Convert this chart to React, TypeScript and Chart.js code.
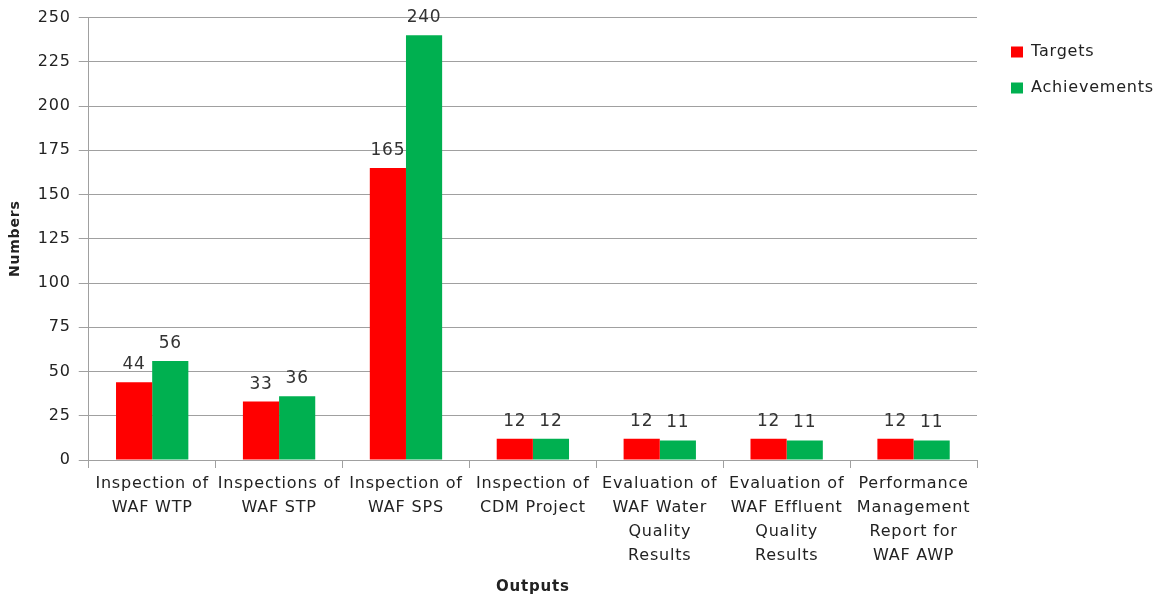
import React, { useEffect, useRef } from "react";
import { Chart, registerables } from "chart.js";

Chart.register(...registerables);

const categories: string[][] = [
  ["Inspection of", "WAF WTP"],
  ["Inspections of", "WAF STP"],
  ["Inspection of", "WAF SPS"],
  ["Inspection of", "CDM Project"],
  ["Evaluation of", "WAF Water", "Quality", "Results"],
  ["Evaluation of", "WAF Effluent", "Quality", "Results"],
  ["Performance", "Management", "Report for", "WAF AWP"],
];
const targets: number[] = [44, 33, 165, 12, 12, 12, 12];
const achievements: number[] = [56, 36, 240, 12, 11, 11, 11];
const yTicks: number[] = [0, 25, 50, 75, 100, 125, 150, 175, 200, 225, 250];

const FONT = "'DejaVu Sans', Verdana, sans-serif";
const TEXT = "#222222";
const GRID = "#a0a0a0";

const spacing = {
  id: "spacing",
  beforeUpdate(chart: any) {
    chart.ctx.letterSpacing = "0.8px";
  },
  beforeDraw(chart: any) {
    chart.ctx.letterSpacing = "0.8px";
  },
};

const legendWidth = {
  id: "legendWidth",
  afterInit(chart: any) {
    const l = chart.legend;
    if (!l) return;
    const orig = l.fit;
    l.fit = function () {
      orig.call(this);
      this.width = 165;
    };
  },
};

const valueLabels = {
  id: "valueLabels",
  afterDatasetsDraw(chart: any) {
    const ctx = chart.ctx;
    ctx.save();
    ctx.font = `17px ${FONT}`;
    ctx.fillStyle = "#333333";
    ctx.textAlign = "center";
    ctx.textBaseline = "bottom";
    chart.data.datasets.forEach((ds: any, i: number) => {
      const meta = chart.getDatasetMeta(i);
      meta.data.forEach((bar: any, j: number) => {
        ctx.fillText(String(ds.data[j]), bar.x, bar.y - 9);
      });
    });
    ctx.restore();
  },
};

export default function App() {
  const ref = useRef<HTMLCanvasElement | null>(null);
  useEffect(() => {
    if (!ref.current) return;
    const chart = new Chart(ref.current, {
      type: "bar",
      data: {
        labels: categories,
        datasets: [
          {
            label: "Targets",
            data: targets,
            backgroundColor: "#FF0000",
            borderWidth: 0,
            categoryPercentage: 0.57,
            barPercentage: 1,
          },
          {
            label: "Achievements",
            data: achievements,
            backgroundColor: "#00B050",
            borderWidth: 0,
            categoryPercentage: 0.57,
            barPercentage: 1,
          },
        ],
      },
      options: {
        animation: false,
        responsive: false,
        maintainAspectRatio: false,
        layout: { padding: { top: 11, right: 0, bottom: 3, left: 5 } },
        plugins: {
          legend: {
            position: "right",
            align: "start",
            title: { display: true, text: "", font: { size: 10, lineHeight: 1 }, padding: { top: 3, bottom: 0 } },
            labels: {
              boxWidth: 12,
              boxHeight: 11,
              padding: 20,
              color: TEXT,
              font: { family: FONT, size: 16 },
            },
          },
          tooltip: { enabled: false },
        },
        scales: {
          x: {
            grid: {
              offset: true,
              drawOnChartArea: false,
              drawTicks: true,
              tickLength: 8,
              color: GRID,
            },
            border: { color: GRID },
            ticks: {
              color: TEXT,
              font: { family: FONT, size: 16, lineHeight: 1.5 },
              maxRotation: 0,
              autoSkip: false,
              padding: 4,
            },
            title: {
              display: true,
              text: "Outputs",
              color: TEXT,
              font: { family: FONT, size: 15, weight: "bold" },
              padding: { top: 6, bottom: 0 },
            },
          },
          y: {
            min: 0,
            max: 250,
            afterBuildTicks(axis: any) {
              axis.ticks = yTicks.map((v) => ({ value: v }));
            },
            grid: { color: GRID, tickLength: 10 },
            border: { color: GRID },
            ticks: {
              color: TEXT,
              font: { family: FONT, size: 16 },
              padding: 8,
            },
            title: {
              display: true,
              text: "Numbers",
              color: TEXT,
              font: { family: FONT, size: 14, weight: "bold" },
              padding: { top: 2, bottom: 6 },
            },
          },
          pad: {
            axis: "y",
            type: "linear",
            position: "right",
            display: true,
            grid: { display: false },
            ticks: { display: false },
            border: { display: false },
            afterFit(scale: any) {
              scale.width = 14;
            },
          },
        },
      },
      plugins: [spacing, legendWidth, valueLabels],
    });
    return () => chart.destroy();
  }, []);
  return (
    <div style={{ position: "fixed", left: 0, top: 0, width: 1156, height: 599, background: "#fff" }}>
      <canvas ref={ref} width={1156} height={599} style={{ width: 1156, height: 599 }} />
    </div>
  );
}
